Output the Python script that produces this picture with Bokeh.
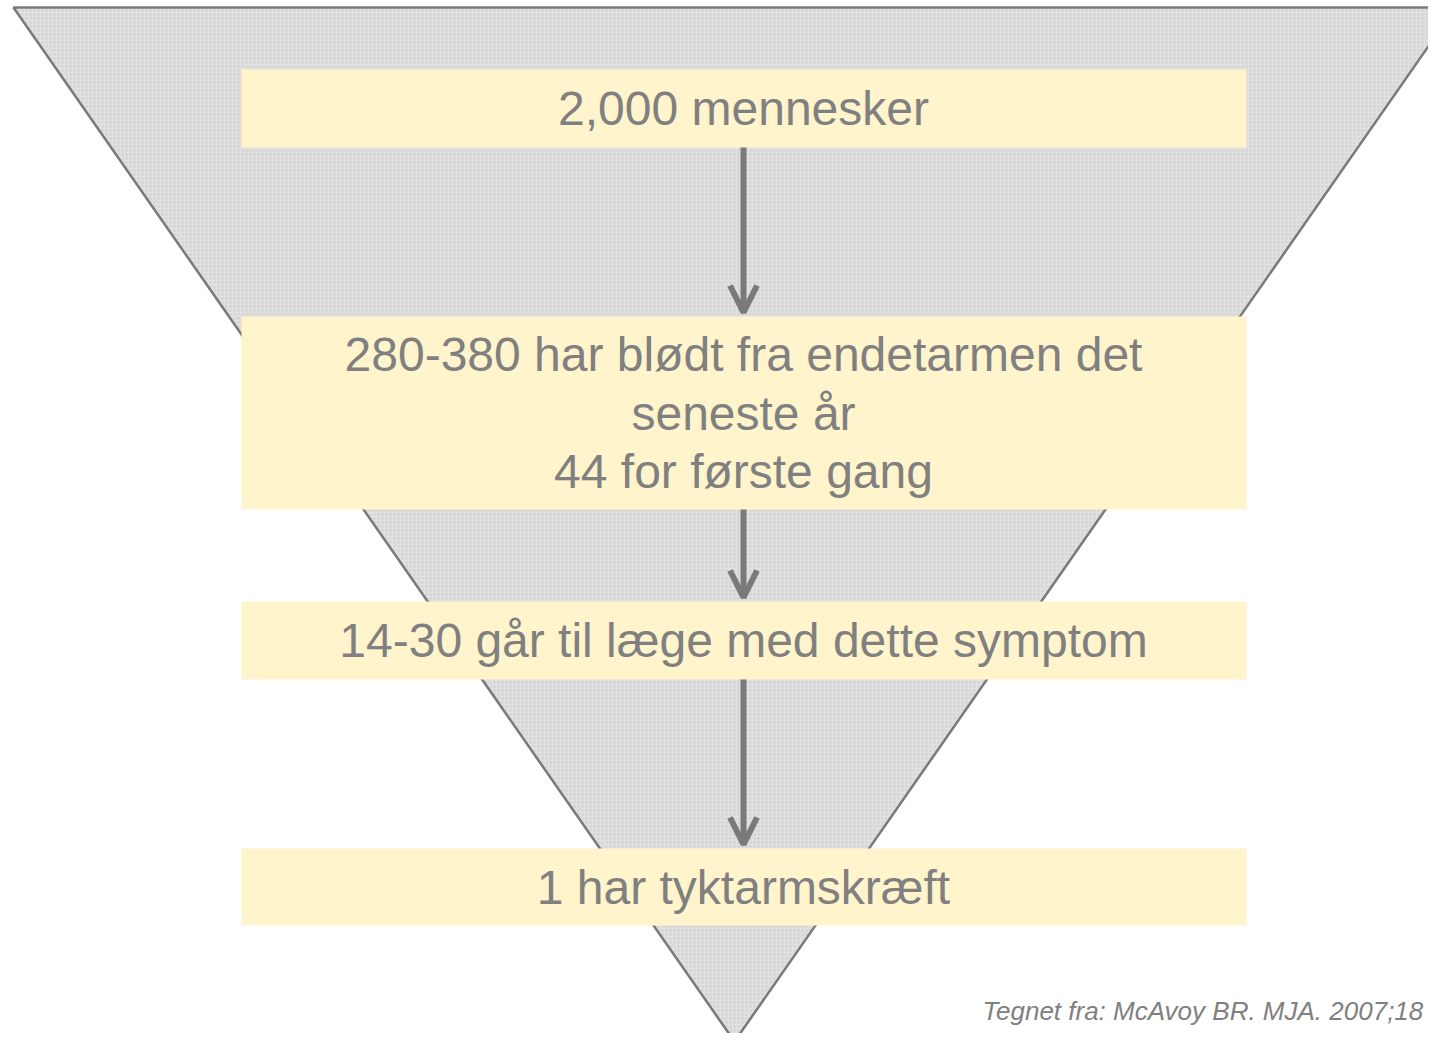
from bokeh.plotting import figure
from bokeh.models import Range1d, ColumnDataSource, Arrow, OpenHead
from bokeh.core.properties import value
from bokeh.embed import file_html
from bokeh.resources import INLINE

# ---- content ----
stage_labels = [
    "2,000 mennesker",
    "280-380 har blødt fra endetarmen det\nseneste år\n44 for første gang",
    "14-30 går til læge med dette symptom",
    "1 har tyktarmskræft",
]
source_note = "Tegnet fra: McAvoy BR. MJA. 2007;18"

# ---- layout (reference pixel coordinates, y grows downward) ----
box_top = [69, 316, 601, 848]
box_bottom = [147, 509, 679, 925]
box_left = 241
box_right = 1246
text_x = 743
arrow_x = 743
funnel_x = [13, 1455, 734]
funnel_y = [7, 7, 1041]

GREY = "#808080"
FONT = "Liberation Sans"

W, H = 1428, 1033
p = figure(width=W, height=H, output_backend="svg", toolbar_location=None,
           x_range=Range1d(0, W), y_range=Range1d(H, 0),
           min_border=0, outline_line_color=None, background_fill_color="white",
           border_fill_color="white")
p.axis.visible = False
p.grid.visible = False

# funnel (inverted triangle)
p.patch(funnel_x, funnel_y, fill_color="#e0e0e0", line_color="#7a7a7a", line_width=2.5,
        hatch_pattern="dot", hatch_color="#cbcbcb", hatch_scale=4, hatch_weight=1)

# boxes
p.quad(left=[box_left] * len(stage_labels), right=[box_right] * len(stage_labels),
       top=box_top, bottom=box_bottom, fill_color="#fff4cc", line_color=None)

# labels
tx, ty, tt = [], [], []
for lab, t, b in zip(stage_labels, box_top, box_bottom):
    lines = lab.split("\n")
    c = (t + b) / 2
    n = len(lines)
    for i, ln in enumerate(lines):
        tx.append(text_x)
        ty.append(c + (i - (n - 1) / 2) * 58.5)
        tt.append(ln)
p.text(x=tx, y=ty, text=tt, text_font=value(FONT), text_font_size="48px",
       text_color=GREY, text_align="center", text_baseline="alphabetic")

# arrows between boxes
arr = ColumnDataSource(dict(
    x0=[arrow_x] * 3, x1=[arrow_x] * 3,
    y0=box_bottom[:-1], y1=[t - 4 for t in box_top[1:]],
))
p.add_layout(Arrow(source=arr, x_start="x0", y_start="y0", x_end="x1", y_end="y1",
                   line_color="#7a7a7a", line_width=6,
                   end=OpenHead(size=27, line_width=6, line_color="#7a7a7a")))

# source note
p.text(x=[982], y=[1010], text=[source_note], text_font=value(FONT), text_font_size="26px",
       text_font_style="italic", text_color=GREY, text_align="left", text_baseline="alphabetic")

open("out.html", "w").write(file_html(p, INLINE))
